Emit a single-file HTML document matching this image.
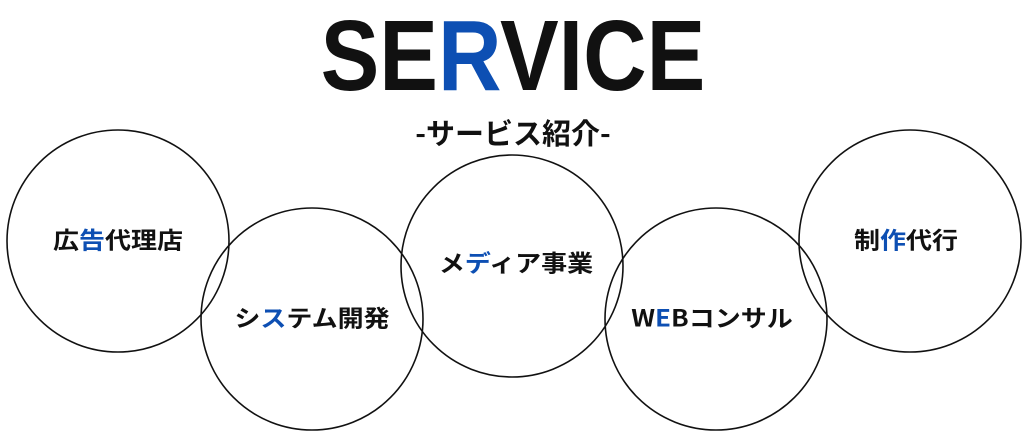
<!DOCTYPE html>
<html><head><meta charset="utf-8"><style>
body{margin:0;width:1024px;height:431px;background:#fff;overflow:hidden;position:relative;font-family:"Liberation Sans","Noto Sans CJK JP",sans-serif}
.t{position:absolute;left:0;width:1024px;text-align:center;font-weight:bold;color:#111}
.b{color:#0d4fb3}
.l{position:absolute;font-family:"Noto Sans CJK JP",sans-serif;font-weight:bold;font-size:26px;transform:translate(-50%,-50%) scaleY(0.9);white-space:nowrap;color:#111}
</style></head><body>
<svg width="1024" height="431" style="position:absolute;left:0;top:0">
<g fill="none" stroke="#111" stroke-width="1.6">
<circle cx="118" cy="241" r="111"/>
<circle cx="312" cy="319" r="111"/>
<circle cx="512" cy="266" r="111"/>
<circle cx="716" cy="319" r="111"/>
<circle cx="910" cy="241" r="111"/>
</g></svg>
<div class="t" style="top:6px;font-size:100px;line-height:100px;transform:scaleX(0.88);left:1px">SE<span class="b">R</span>VICE</div>
<div class="t" style="top:112px;font-size:29px;line-height:40px;font-family:'Noto Sans CJK JP',sans-serif;left:1px">-サービス紹介-</div>
<div class="l" style="left:118px;top:239px">広<span class="b">告</span>代理店</div>
<div class="l" style="left:312px;top:317px">シ<span class="b">ス</span>テム開発</div>
<div class="l" style="left:516px;top:262px">メ<span class="b">デ</span>ィア事業</div>
<div class="l" style="left:712px;top:317px">W<span class="b">E</span>Bコンサル</div>
<div class="l" style="left:906px;top:239px">制<span class="b">作</span>代行</div>
</body></html>
